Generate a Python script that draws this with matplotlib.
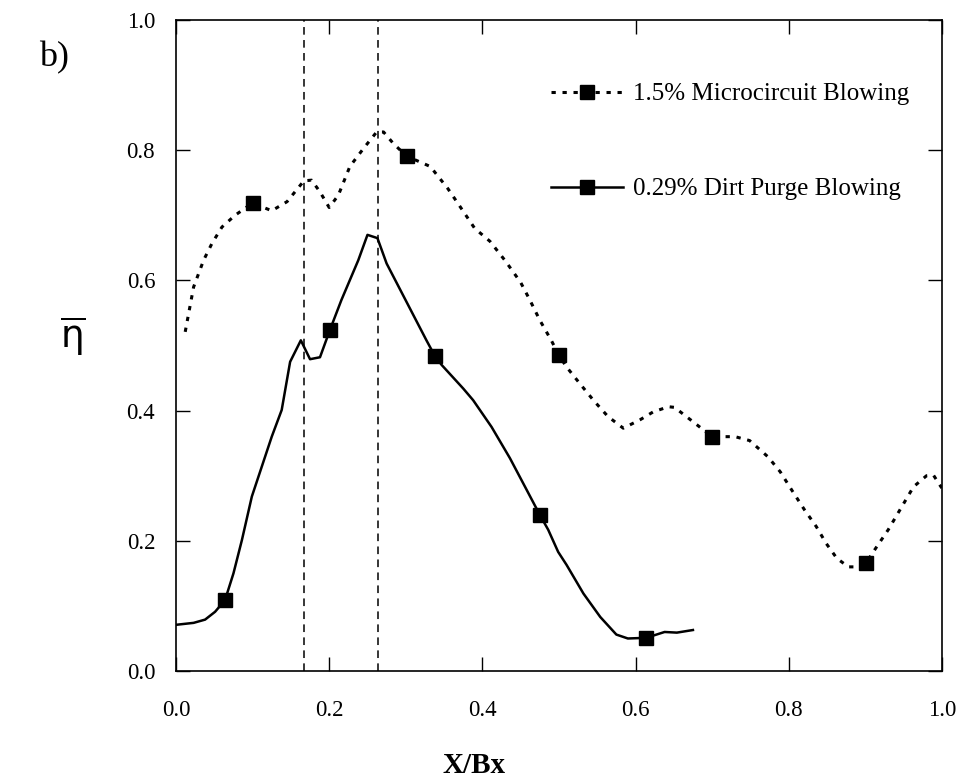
import numpy as np
from matplotlib import pyplot as plt

# 1.5% microcircuit blowing (dotted)
micro_x = [0.012, 0.023, 0.036, 0.047, 0.060, 0.077, 0.100, 0.125, 0.145, 0.167, 0.177,
           0.188, 0.200, 0.212, 0.227, 0.245, 0.262, 0.271, 0.284, 0.301, 0.332, 0.355,
           0.370, 0.390, 0.410, 0.430, 0.450, 0.462, 0.475, 0.490, 0.500, 0.510, 0.527,
           0.545, 0.564, 0.584, 0.606, 0.623, 0.643, 0.651, 0.675, 0.700, 0.730, 0.749,
           0.773, 0.789, 0.804, 0.821, 0.836, 0.849, 0.863, 0.878, 0.889, 0.901, 0.915,
           0.930, 0.945, 0.963, 0.980, 0.989, 1.000]
micro_y = [0.521, 0.590, 0.631, 0.657, 0.682, 0.700, 0.719, 0.707, 0.721, 0.753, 0.754,
           0.736, 0.712, 0.731, 0.775, 0.803, 0.828, 0.828, 0.810, 0.791, 0.775, 0.741,
           0.715, 0.680, 0.660, 0.630, 0.597, 0.570, 0.539, 0.508, 0.485, 0.467, 0.442,
           0.416, 0.391, 0.373, 0.386, 0.398, 0.406, 0.405, 0.383, 0.360, 0.360, 0.354,
           0.329, 0.306, 0.278, 0.247, 0.222, 0.196, 0.173, 0.160, 0.160, 0.166, 0.191,
           0.217, 0.247, 0.283, 0.300, 0.301, 0.281]
micro_marks = [0.100, 0.301, 0.500, 0.700, 0.901]

# 0.29% dirt purge blowing (solid)
dirt_x = [0.000, 0.023, 0.038, 0.051, 0.064, 0.075, 0.086, 0.099, 0.112, 0.125, 0.138,
          0.149, 0.163, 0.175, 0.188, 0.201, 0.216, 0.238, 0.250, 0.263, 0.275, 0.301,
          0.327, 0.338, 0.347, 0.375, 0.388, 0.412, 0.436, 0.458, 0.475, 0.486, 0.499,
          0.510, 0.532, 0.554, 0.575, 0.590, 0.614, 0.638, 0.654, 0.675]
dirt_y = [0.071, 0.074, 0.079, 0.091, 0.109, 0.150, 0.201, 0.268, 0.314, 0.360, 0.401,
          0.475, 0.508, 0.479, 0.482, 0.524, 0.570, 0.631, 0.670, 0.665, 0.626, 0.567,
          0.508, 0.484, 0.470, 0.434, 0.416, 0.375, 0.327, 0.278, 0.240, 0.217, 0.183,
          0.163, 0.119, 0.083, 0.056, 0.050, 0.051, 0.060, 0.059, 0.063]
dirt_marks = [0.064, 0.201, 0.338, 0.475, 0.614]

passage_lines = [0.167, 0.264]

plt.rcParams['font.family'] = ['Liberation Serif', 'DejaVu Serif']

fig = plt.figure(figsize=(9.65, 7.82), dpi=100)
ax = fig.add_axes([0.1824, 0.1419, 0.7936, 0.8325])

for xv in passage_lines:
    ax.axvline(xv, color='black', lw=1.1, ls=(0, (5, 3.5)))

mi = [micro_x.index(m) for m in micro_marks]
di = [dirt_x.index(m) for m in dirt_marks]
ax.plot(micro_x, micro_y, color='black', lw=2.2, ls=(0, (1.4, 2.2)),
        marker='s', ms=10.5, markevery=mi, label='1.5% Microcircuit Blowing')
ax.plot(dirt_x, dirt_y, color='black', lw=1.8, ls='-',
        marker='s', ms=10.5, markevery=di, label='0.29% Dirt Purge Blowing')

ax.set_xlim(0, 1)
ax.set_ylim(0, 1)
ticks = np.arange(0, 1.01, 0.2)
ax.set_xticks(ticks)
ax.set_yticks(ticks)
ax.set_xticklabels([f'{t:.1f}' for t in ticks], fontsize=16.5)
ax.set_yticklabels([f'{t:.1f}' for t in ticks], fontsize=16.5)
ax.tick_params(direction='in', length=10, width=1, top=True, right=True)
ax.tick_params(axis='x', pad=21)
ax.tick_params(axis='y', pad=15)
for s in ax.spines.values():
    s.set_linewidth(1.2)

leg = ax.legend(loc='upper left', bbox_to_anchor=(0.46, 0.938), frameon=False,
                fontsize=18, labelspacing=2.9, handlelength=2.9, handletextpad=0.4)

fig.text(0.491, 0.012, 'X/Bx', fontsize=21, fontweight='bold', ha='center')
fig.text(0.04, 0.915, 'b)', fontsize=26)
fig.text(0.076, 0.57, r'$\overline{\mathrm{\eta}}$', fontsize=27, ha='center', va='center',
         family='DejaVu Sans')

fig.savefig('out.png', dpi=100)
